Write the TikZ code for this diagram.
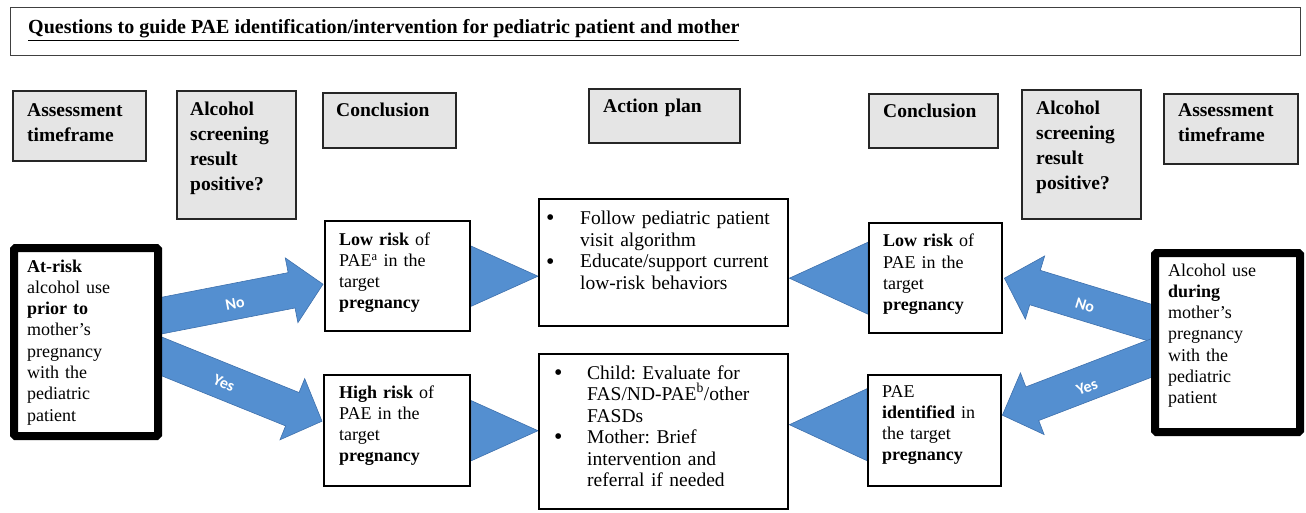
\documentclass[tikz,border=0pt]{standalone}
\usepackage{fontspec}
\setmainfont{Liberation Serif}
\newfontfamily\lblfont{Carlito}
\usetikzlibrary{calc}
\definecolor{arrowblue}{RGB}{84,143,208}
\definecolor{arrowedge}{RGB}{62,112,172}
\definecolor{hdrgray}{RGB}{229,229,229}
\newcommand\bdyf{\fontsize{18}{21.3}\selectfont}
\newcommand\actf{\fontsize{19.5}{21.5}\selectfont}
\newcommand\hdrf{\fontsize{19.5}{25}\selectfont\bfseries}
\newcommand\bigbul{\raisebox{-1pt}{\fontsize{24}{0}\selectfont •}}
\frenchspacing
\pgfdeclarelayer{bg}
\pgfsetlayers{bg,main}
\newcommand\blockarr[3]{%
  \coordinate (#3b) at ($(#2)!32pt!(#1)$);
  \filldraw[blockarrow] (#2) -- ($(#3b)!33pt!90:(#2)$) -- ($(#3b)!18pt!90:(#2)$)
    -- ($(#1)!18pt!90:(#2)$) -- ($(#1)!18pt!-90:(#2)$) -- ($(#3b)!18pt!-90:(#2)$)
    -- ($(#3b)!33pt!-90:(#2)$) -- cycle;}
\begin{document}
\frenchspacing
\begin{tikzpicture}[x=1pt,y=-1pt,
  titlebox/.style={draw=black!75, line width=1.3pt, inner sep=0, anchor=north west},
  hdrbox/.style={draw=black!85, line width=1.6pt, fill=hdrgray, inner sep=0, anchor=north west},
  mainbox/.style={draw=black, line width=2.4pt, fill=white, inner sep=0, anchor=north west},
  thickbox/.style={draw=black, line width=8pt, fill=white, inner sep=0, anchor=north west, rounded corners=1.5pt},
  txt/.style={anchor=base west, inner sep=0, align=left, text width=112pt, font=\bdyf},
  acttxt/.style={anchor=base west, inner sep=0, align=left, text width=228pt, font=\actf},
  hdrtxt/.style={anchor=base west, inner sep=0, align=left, text width=100pt, font=\hdrf},
  blockarrow/.style={fill=arrowblue, draw=arrowedge, line width=0.6pt, line join=miter},
  lbl/.style={text=white, font=\lblfont\bfseries\fontsize{16}{16}\selectfont, inner sep=0}
]
\useasboundingbox (0,0) rectangle (1306,513);

% title
\node[titlebox, minimum width=1290pt, minimum height=48pt] (title) at (10,7) {};
\node[anchor=base west, inner sep=0, font=\fontsize{20}{22}\selectfont\bfseries] (titletxt) at (28,34)
  {\underline{Questions to guide PAE identification/intervention for pediatric patient and mother}};

% header boxes
\node[hdrbox, minimum width=133pt, minimum height=70pt] (h1) at (12,90) {};
\node[hdrbox, minimum width=119pt, minimum height=128pt] (h2) at (176,90) {};
\node[hdrbox, minimum width=133pt, minimum height=55pt] (h3) at (322,92) {};
\node[hdrbox, minimum width=151pt, minimum height=54pt] (h4) at (588,88) {};
\node[hdrbox, minimum width=129pt, minimum height=54pt] (h5) at (868,93) {};
\node[hdrbox, minimum width=119pt, minimum height=129pt] (h6) at (1021,89) {};
\node[hdrbox, minimum width=134pt, minimum height=70pt] (h7) at (1163,93) {};

\node[hdrtxt] (h1t) at (27,117) {Assessment\\timeframe};
\node[hdrtxt] (h2t) at (190,116) {Alcohol\\screening\\result\\positive?};
\node[hdrtxt] (h3t) at (336,117) {Conclusion};
\node[hdrtxt] (h4t) at (603,113) {Action plan};
\node[hdrtxt] (h5t) at (883,118) {Conclusion};
\node[hdrtxt] (h6t) at (1036,115) {Alcohol\\screening\\result\\positive?};
\node[hdrtxt] (h7t) at (1178,117) {Assessment\\timeframe};

% main boxes
\node[thickbox, minimum width=144pt, minimum height=188pt] (atL) at (10,244) {};
\node[mainbox, minimum width=145pt, minimum height=110pt] (lowL) at (324,220) {};
\node[mainbox, minimum width=146pt, minimum height=111pt] (highL) at (323,374) {};
\node[mainbox, minimum width=249pt, minimum height=127pt] (actT) at (538,198) {};
\node[mainbox, minimum width=249pt, minimum height=155pt] (actB) at (538,353) {};
\node[mainbox, minimum width=133pt, minimum height=110pt] (lowR) at (868,222) {};
\node[mainbox, minimum width=133pt, minimum height=111pt] (idR) at (867,374) {};
\node[thickbox, minimum width=145pt, minimum height=179pt] (durR) at (1151,249) {};

\node[txt] (atLt) at (27,272) {\textbf{At-risk}\\alcohol use\\\textbf{prior to}\\mother’s\\pregnancy\\with the\\pediatric\\patient};
\node[txt] (lowLt) at (339,245) {\textbf{Low risk} of\\PAE\textsuperscript{a} in the\\target\\\textbf{pregnancy}};
\node[txt] (highLt) at (339,398) {\textbf{High risk} of\\PAE in the\\target\\\textbf{pregnancy}};
\node[acttxt] (actTt) at (546,225) {\makebox[34pt][l]{\bigbul}Follow pediatric patient\\\hspace*{34pt}visit algorithm\\\makebox[34pt][l]{\bigbul}Educate/support current\\\hspace*{34pt}low-risk behaviors};
\node[acttxt] (actBt) at (554,379) {\makebox[33pt][l]{\bigbul}Child: Evaluate for\\\hspace*{33pt}FAS/ND-PAE\textsuperscript{b}/other\\\hspace*{33pt}FASDs\\\makebox[33pt][l]{\bigbul}Mother: Brief\\\hspace*{33pt}intervention and\\\hspace*{33pt}referral if needed};
\node[txt] (lowRt) at (883,247) {\textbf{Low risk} of\\PAE in the\\target\\\textbf{pregnancy}};
\node[txt] (idRt) at (882,397) {PAE\\\textbf{identified} in\\the target\\\textbf{pregnancy}};
\node[txt] (durRt) at (1168,276) {Alcohol use\\\textbf{during}\\mother’s\\pregnancy\\with the\\pediatric\\patient};

% arrows
\coordinate (tNoL) at ($(lowL.west)+(-1,8)$);
\coordinate (sNoL) at ($(tNoL)+(-186.5,36.3)$);
\coordinate (tYesL) at ($(highL.west)+(-1,-9.5)$);
\coordinate (sYesL) at ($(tYesL)+(-176.2,-71.2)$);
\coordinate (tNoR) at ($(lowR.east)+(1,0)$);
\coordinate (sNoR) at ($(tNoR)+(181.7,55.5)$);
\coordinate (tYesR) at ($(idR.east)+(0,-15.5)$);
\coordinate (sYesR) at ($(tYesR)+(177.4,-68.1)$);
\coordinate (idRc) at ($(idR.west)+(0,-6)$);
\begin{pgfonlayer}{bg}
\blockarr{sNoL}{tNoL}{a1}
\blockarr{sYesL}{tYesL}{a2}
\blockarr{sNoR}{tNoR}{a3}
\blockarr{sYesR}{tYesR}{a4}
\filldraw[blockarrow] ($(lowL.east)+(0,-30)$) -- ($(lowL.east)+(0,30)$) -- (lowL.east -| actT.west) -- cycle;
\filldraw[blockarrow] ($(highL.east)+(0,-30)$) -- ($(highL.east)+(0,30)$) -- (highL.east -| actB.west) -- cycle;
\filldraw[blockarrow] ($(lowR.west)+(0,-36)$) -- ($(lowR.west)+(0,36)$) -- (lowR.west -| actT.east) -- cycle;
\filldraw[blockarrow] ($(idRc)+(0,-36)$) -- ($(idRc)+(0,36)$) -- (idRc -| actB.east) -- cycle;
\end{pgfonlayer}

\node[lbl, rotate=11] (noL) at (235,304) {No};
\node[lbl, rotate=-24] (yesL) at (224,383) {Yes};
\node[lbl, rotate=-17] (noR) at (1085,305) {No};
\node[lbl, rotate=21] (yesR) at (1087,387) {Yes};
\end{tikzpicture}
\end{document}
